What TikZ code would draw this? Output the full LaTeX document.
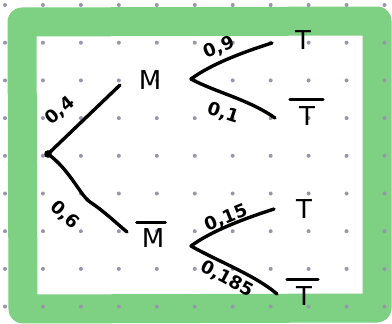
\documentclass[tikz,border=0pt]{standalone}
\usepackage{fontspec}
\setmainfont{DejaVu Sans}
\begin{document}
\begin{tikzpicture}[x=1pt,y=-1pt,
  ink/.style={line width=3.4pt,line cap=round,line join=round,black},
  barline/.style={line width=3pt,line cap=round,black},
  lbl/.style={font=\fontsize{26}{26}\selectfont,inner sep=0pt},
  prob/.style={font=\fontsize{18}{18}\selectfont\bfseries,inner sep=0pt}]
\useasboundingbox (0,0) rectangle (392,324);
\fill[white] (0,0) rectangle (392,324);
% green frame
\draw[line width=29pt,color={rgb,255:red,126;green,208;blue,130},line join=round]
  (22,22) -- (377,21) -- (377,308) -- (23,309) -- cycle;
% dot grid
\foreach \i in {0,...,10}{
  \foreach \j in {0,...,8}{
    \fill[color={rgb,255:red,150;green,150;blue,172}] ({5+37.95*\i},{5+37.7*\j}) circle (2pt);
  }
}
% nodes
\coordinate (r) at (48,154);
\coordinate (mE) at (120,85);
\coordinate (nE) at (127,232);
\coordinate (f1) at (191,79);
\coordinate (f1a) at (272,43);
\coordinate (f1b) at (275,118);
\coordinate (f2) at (191,246);
\coordinate (f2a) at (274,209);
\coordinate (f2b) at (277,294);
\fill (r) circle (3.8pt);
\node[lbl] (M) at (150,80) {M};
\node[lbl] (Mb) at (153,238) {M};
\node[lbl] (T1) at (303,40) {T};
\node[lbl] (T1b) at (307,116) {T};
\node[lbl] (T2) at (304,209) {T};
\node[lbl] (T2b) at (304,296) {T};
% bars
\draw[barline] ([xshift=-5pt,yshift=6pt]Mb.north west) -- ([xshift=1pt,yshift=6pt]Mb.north east);
\draw[barline] ([xshift=-9pt,yshift=7pt]T1b.north west) -- ([xshift=8pt,yshift=7pt]T1b.north east);
\draw[barline] ([xshift=-9pt,yshift=7pt]T2b.north west) -- ([xshift=6pt,yshift=7pt]T2b.north east);
% branches
\draw[ink] (r) -- (mE);
\draw[ink] (r) .. controls (70,170) and (80,195) .. (90,202) .. controls (105,212) and (115,222) .. (nE);
\draw[ink] (f1a) .. controls (240,53) and (210,65) .. (f1) .. controls (215,92) and (250,100) .. (f1b);
\draw[ink] (f2a) .. controls (240,220) and (210,232) .. (f2) .. controls (215,260) and (255,275) .. (f2b);
% probabilities
\node[prob,rotate=40] (p04) at (60,111) {0,4};
\node[prob,rotate=-42] (p06) at (65,215) {0,6};
\node[prob,rotate=22] (p09) at (219,48) {0,9};
\node[prob,rotate=-18] (p01) at (223,113) {0,1};
\node[prob,rotate=22] (p015) at (226,218) {0,15};
\node[prob,rotate=-28] (p0185) at (227,279) {0,185};
\end{tikzpicture}
\end{document}
